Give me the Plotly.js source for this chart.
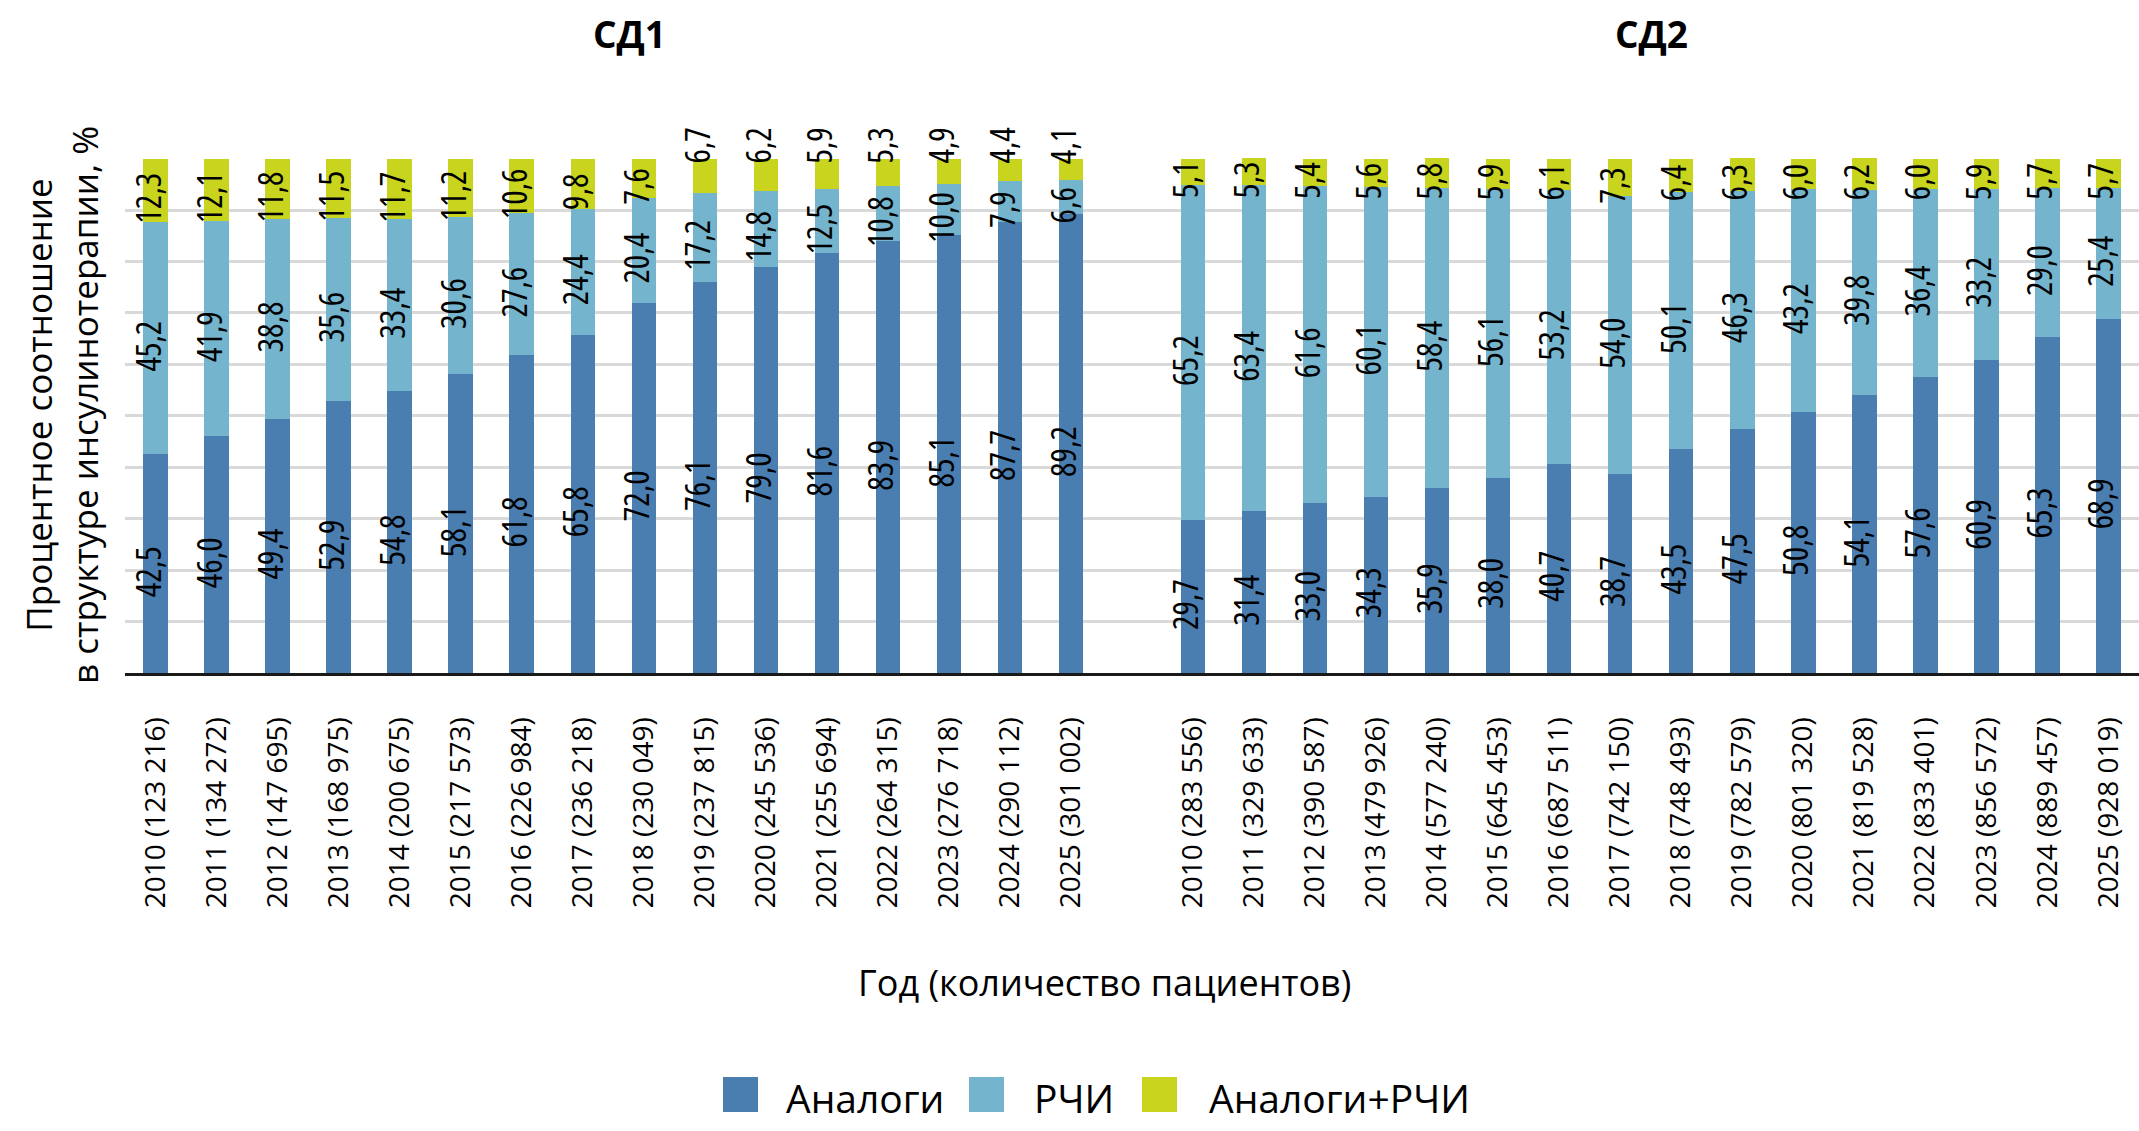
<!DOCTYPE html>
<html>
<head>
<meta charset="utf-8">
<script src="https://cdn.plot.ly/plotly-3.0.1.min.js"></script>
<style>
  html, body { margin: 0; padding: 0; background: #fff; }
  #chart { width: 2139px; height: 1131px; }
  /* marker family "oscond" -> condensed face of Open Sans */
  text[style*="oscond"], text[style*="oscond"] tspan { font-stretch: condensed; }
  /* labels sit a little below the segment middle, like in the source */
  .bartext { translate: 0 8px; }
</style>
</head>
<body>
<div id="chart"></div>
<script>
// years and patient counts for each group
const years = [2010, 2011, 2012, 2013, 2014, 2015, 2016, 2017, 2018, 2019, 2020, 2021, 2022, 2023, 2024, 2025];
const patientsT1 = ["123 216", "134 272", "147 695", "168 975", "200 675", "217 573", "226 984", "236 218",
                    "230 049", "237 815", "245 536", "255 694", "264 315", "276 718", "290 112", "301 002"];
const patientsT2 = ["283 556", "329 633", "390 587", "479 926", "577 240", "645 453", "687 511", "742 150",
                    "748 493", "782 579", "801 320", "819 528", "833 401", "856 572", "889 457", "928 019"];

// СД1 shares, %
const analogsT1 = [42.5, 46.0, 49.4, 52.9, 54.8, 58.1, 61.8, 65.8, 72.0, 76.1, 79.0, 81.6, 83.9, 85.1, 87.7, 89.2];
const humanT1   = [45.2, 41.9, 38.8, 35.6, 33.4, 30.6, 27.6, 24.4, 20.4, 17.2, 14.8, 12.5, 10.8, 10.0, 7.9, 6.6];
const mixT1     = [12.3, 12.1, 11.8, 11.5, 11.7, 11.2, 10.6, 9.8, 7.6, 6.7, 6.2, 5.9, 5.3, 4.9, 4.4, 4.1];

// СД2 shares, %
const analogsT2 = [29.7, 31.4, 33.0, 34.3, 35.9, 38.0, 40.7, 38.7, 43.5, 47.5, 50.8, 54.1, 57.6, 60.9, 65.3, 68.9];
const humanT2   = [65.2, 63.4, 61.6, 60.1, 58.4, 56.1, 53.2, 54.0, 50.1, 46.3, 43.2, 39.8, 36.4, 33.2, 29.0, 25.4];
const mixT2     = [5.1, 5.3, 5.4, 5.6, 5.8, 5.9, 6.1, 7.3, 6.4, 6.3, 6.0, 6.2, 6.0, 5.9, 5.7, 5.7];

const seriesNames = ["Аналоги", "РЧИ", "Аналоги+РЧИ"];
const seriesColors = ["#4a7eb0", "#74b4cd", "#c8d41e"];

// one category axis: СД1, an empty slot, then СД2
const labelsT1 = years.map((y, i) => `${y} (${patientsT1[i]})`);
const labelsT2 = years.map((y, i) => `${y} (${patientsT2[i]})`);
const categories = labelsT1.concat([" "], labelsT2);

const condensed = "'Open Sans', oscond, sans-serif";
const regular = "'Open Sans', sans-serif";

// plot area in page pixels: x 125..2139, y 158 (100 %) .. 673 (0 %)
const px = x => (x - 125) / 2014;
const py = y => (673 - y) / 515;

function makeTrace(idx, t1, t2, positions) {
    const y = t1.concat([null], t2);
    return {
        type: "bar",
        name: seriesNames[idx],
        x: categories,
        y: y,
        text: y.map(v => v === null ? "" : v.toFixed(1).replace(".", ",")),
        textposition: positions || "inside",
        insidetextanchor: "middle",
        textangle: -90,
        constraintext: "none",
        cliponaxis: false,
        textfont: { family: condensed, size: 34, color: "#000" },
        marker: { color: seriesColors[idx], line: { width: 0 } },
        showlegend: false
    };
}

// top labels are lifted above the bar where both upper segments are thin
const lift = (h, m) => (h < 18 && m < 7) ? "outside" : "inside";
const mixPositions = humanT1.map((h, i) => lift(h, mixT1[i]))
    .concat(["inside"], humanT2.map((h, i) => lift(h, mixT2[i])));

const traces = [
    makeTrace(0, analogsT1, analogsT2),
    makeTrace(1, humanT1, humanT2),
    makeTrace(2, mixT1, mixT2, mixPositions)
];

// legend drawn as squares + labels
const legendBoxX = [723, 969, 1142];
const legendTextX = [784, 1032, 1207];
const legendShapes = seriesNames.map((n, i) => ({
    type: "rect", xref: "paper", yref: "paper",
    x0: px(legendBoxX[i]), x1: px(legendBoxX[i] + 35),
    y0: py(1112), y1: py(1077),
    fillcolor: seriesColors[i], line: { width: 0 }
}));
const legendLabels = seriesNames.map((n, i) => ({
    text: n, xref: "paper", yref: "paper",
    x: px(legendTextX[i]), y: py(1097),
    xanchor: "left", yanchor: "middle", showarrow: false,
    font: { family: regular, size: 39, color: "#000" }
}));

const layout = {
    width: 2139,
    height: 1131,
    barmode: "stack",
    bargap: 0.6,
    paper_bgcolor: "#fff",
    plot_bgcolor: "#fff",
    margin: { l: 125, r: 0, t: 158, b: 458 },
    showlegend: false,
    xaxis: {
        type: "category",
        tickangle: -90,
        ticks: "",
        ticklabelstandoff: 30,
        tickfont: { family: regular, size: 28, color: "#000" },
        showgrid: false,
        showline: true,
        linecolor: "#1a1a1a",
        linewidth: 3,
        fixedrange: true
    },
    yaxis: {
        range: [0, 100.12],
        tick0: 0,
        dtick: 10,
        showticklabels: false,
        ticks: "",
        showgrid: true,
        gridcolor: "#d9d9d9",
        gridwidth: 3,
        zeroline: false,
        showline: false,
        fixedrange: true
    },
    shapes: legendShapes,
    annotations: [
        { text: "<b>СД1</b>", xref: "paper", yref: "paper", x: px(629), y: py(33),
          showarrow: false, xanchor: "center", yanchor: "middle", font: { family: regular, size: 37, color: "#000" } },
        { text: "<b>СД2</b>", xref: "paper", yref: "paper", x: px(1651), y: py(33),
          showarrow: false, xanchor: "center", yanchor: "middle", font: { family: regular, size: 37, color: "#000" } },
        { text: "Процентное соотношение<br>в структуре инсулинотерапии, %", xref: "paper", yref: "paper",
          x: px(61), y: py(405), textangle: -90,
          showarrow: false, xanchor: "center", yanchor: "middle",
          font: { family: regular, size: 35, color: "#000" } },
        { text: "Год (количество пациентов)", xref: "paper", yref: "paper",
          x: px(1104), y: py(982),
          showarrow: false, xanchor: "center", yanchor: "middle",
          font: { family: regular, size: 36, color: "#000" } }
    ].concat(legendLabels)
};

Plotly.newPlot("chart", traces, layout, { displayModeBar: false, staticPlot: true });
</script>
</body>
</html>
